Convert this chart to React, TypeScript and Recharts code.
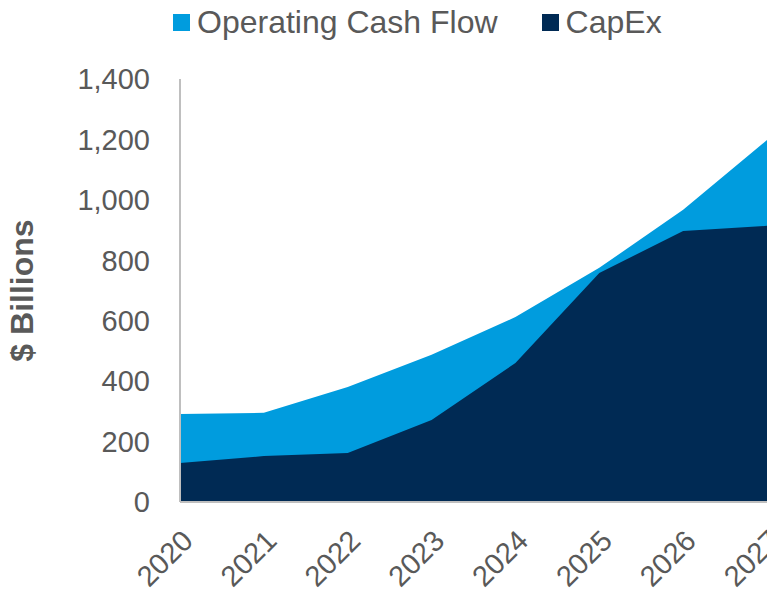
import React from 'react';
import { AreaChart, Area, XAxis, YAxis, Legend } from 'recharts';

const years = ['2020', '2021', '2022', '2023', '2024', '2025', '2026', '2027'];
const operatingCashFlow = [291, 295, 381, 487, 612, 775, 967, 1198];
const capex = [129, 152, 162, 271, 460, 758, 897, 914];
const yTicks = [0, 200, 400, 600, 800, 1000, 1200, 1400];

const OCF_COLOR = '#009CDE';
const CAPEX_COLOR = '#002A54';
const TEXT = '#595959';
const FONT = '"Liberation Sans", Arial, sans-serif';

const chartData = years.map((year, i) => ({
    year,
    ocf: operatingCashFlow[i],
    capex: capex[i],
}));

const legendItems = [
    { label: 'Operating Cash Flow', color: OCF_COLOR },
    { label: 'CapEx', color: CAPEX_COLOR },
];

function ChartLegend() {
    return (
        <div style={{ display: 'flex', alignItems: 'center', paddingLeft: 173, fontFamily: FONT, fontSize: 32, color: TEXT, lineHeight: '44px' }}>
            {legendItems.map((item, i) => (
                <div key={item.label} style={{ display: 'flex', alignItems: 'center', marginRight: i === 0 ? 44 : 0 }}>
                    <span style={{ width: 17, height: 17, background: item.color, marginRight: 7, display: 'inline-block' }} />
                    <span>{item.label}</span>
                </div>
            ))}
        </div>
    );
}

function YLabel(props: any) {
    const vb = props.viewBox || {};
    const cx = vb.x + 33;
    const cy = vb.y + vb.height / 2;
    return (
        <text
            x={cx}
            y={cy}
            transform={`rotate(-90, ${cx}, ${cy})`}
            textAnchor="middle"
            fontFamily={FONT}
            fontSize={32}
            fontWeight="bold"
            fill={TEXT}
        >
            $ Billions
        </text>
    );
}

export default function App() {
    return (
        <div style={{ position: 'absolute', left: 0, top: 0, width: 767, height: 592, background: '#fff' }}>
            <AreaChart width={767} height={592} data={chartData} margin={{ top: 79, right: 0, left: 0, bottom: 0 }}>
                <XAxis
                    dataKey="year"
                    height={90}
                    axisLine={{ stroke: '#BFBFBF', strokeWidth: 2 }}
                    tickLine={false}
                    tickSize={0}
                    tickMargin={26}
                    interval={0}
                    tick={{ angle: -45, textAnchor: 'end', fill: TEXT, fontSize: 29, fontFamily: FONT }}
                />
                <YAxis
                    width={180}
                    domain={[0, 1400]}
                    ticks={yTicks}
                    axisLine={{ stroke: '#BFBFBF', strokeWidth: 2 }}
                    tickLine={false}
                    tickSize={0}
                    tickMargin={30}
                    tickFormatter={(v: number) => v.toLocaleString('en-US')}
                    tick={{ fill: TEXT, fontSize: 29, fontFamily: FONT }}
                    label={{ content: YLabel }}
                />
                <Legend
                    verticalAlign="middle"
                    align="center"
                    wrapperStyle={{ top: 0, left: 0, width: 767 }}
                    content={() => <ChartLegend />}
                />
                <Area
                    type="linear"
                    dataKey="ocf"
                    name="Operating Cash Flow"
                    stroke="none"
                    fill={OCF_COLOR}
                    fillOpacity={1}
                    isAnimationActive={false}
                />
                <Area
                    type="linear"
                    dataKey="capex"
                    name="CapEx"
                    stroke="none"
                    fill={CAPEX_COLOR}
                    fillOpacity={1}
                    isAnimationActive={false}
                />
            </AreaChart>
        </div>
    );
}
